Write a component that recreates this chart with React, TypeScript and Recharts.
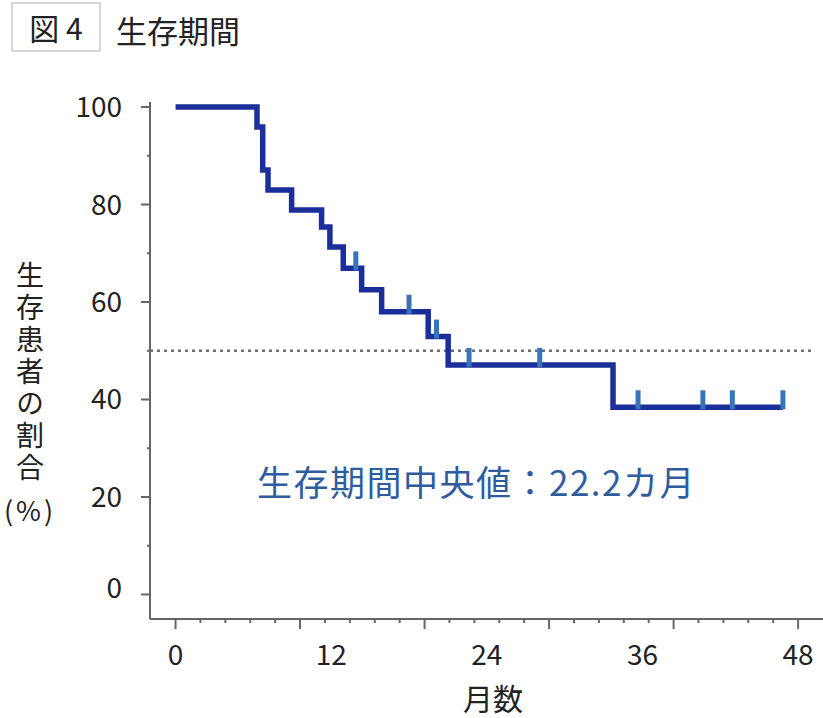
import { ComposedChart, Line, Scatter, XAxis, YAxis, ReferenceLine } from 'recharts';

// Kaplan-Meier curve (months, % surviving)
const months = [0, 6.28, 6.72, 7.13, 8.95, 11.26, 11.9, 12.93, 14.35, 15.89, 19.48, 21.02, 33.73, 46.83];
const survival = [100, 95.9, 87.1, 83.0, 78.9, 75.4, 71.3, 66.9, 62.5, 58.0, 52.9, 47.1, 38.4, 38.4];

// censored patients
const censorMonths = [13.9, 18.0, 20.12, 22.63, 28.08, 35.66, 40.66, 42.93, 46.83];
const censorSurvival = [66.9, 58.0, 52.9, 47.1, 47.1, 38.4, 38.4, 38.4, 38.4];

const xLabelTicks = [0, 12, 24, 36, 48];
const xMarkTicks = [
  0, 1.92, 3.84, 5.76, 7.68, 9.6, 11.52, 13.44, 15.36, 17.28, 19.2, 21.12, 23.04,
  24.96, 26.88, 28.8, 30.72, 32.64, 34.56, 36.48, 38.4, 40.32, 42.24, 44.16, 46.08, 48,
];
const xMajorMarks = [0, 9.6, 19.2, 28.8, 38.4, 48];
const yLabelTicks = [0, 20, 40, 60, 80, 100];
const yMarkTicks = [0, 10, 20, 30, 40, 50, 60, 70, 80, 90, 100];
const medianLevel = 50;

const curveData = months.map((t, i) => ({ t, s: survival[i] }));
const censorData = censorMonths.map((t, i) => ({ t, s: censorSurvival[i] }));
const xTicks = Array.from(new Set([...xMarkTicks, ...xLabelTicks])).sort((a, b) => a - b);

const FONT = '"Noto Sans CJK JP", "Noto Sans", sans-serif';
const AXIS = '#666';

function XTick(props: any) {
  const { x, y, payload } = props;
  const v = payload.value;
  const mark = xMarkTicks.includes(v);
  const major = xMajorMarks.includes(v);
  const label = xLabelTicks.includes(v);
  return (
    <g>
      {mark && <line x1={x} x2={x} y1={y} y2={y + (major ? 10 : 4)} stroke={AXIS} strokeWidth={2} />}
      {label && (
        <text x={x} y={y + 46} textAnchor="middle" fontSize={28} fill="#222" fontFamily={FONT}>
          {v}
        </text>
      )}
    </g>
  );
}

function YTick(props: any) {
  const { x, y, payload } = props;
  const v = payload.value;
  const major = yLabelTicks.includes(v);
  return (
    <g>
      <line x1={x - (major ? 9 : 3)} x2={x} y1={y} y2={y} stroke={AXIS} strokeWidth={2} />
      {major && (
        <text x={x - 28} y={y + (v === 0 ? 4 : 10)} textAnchor="end" fontSize={28} fill="#222" fontFamily={FONT}>
          {v}
        </text>
      )}
    </g>
  );
}

const CensorMark = (props: any) => {
  const { cx, cy } = props;
  return <rect x={cx - 2.5} y={cy - 17} width={5} height={19} fill="#3a74b8" />;
};

export default function App() {
  return (
    <div
      style={{
        position: 'absolute',
        left: 0,
        top: 0,
        width: 823,
        height: 718,
        background: '#fff',
        fontFamily: FONT,
        color: '#222',
      }}
    >
      <div
        style={{
          position: 'absolute',
          left: 11,
          top: 2,
          width: 86,
          height: 46,
          border: '2px solid #d6d6d6',
          fontSize: 30,
          lineHeight: '46px',
          textAlign: 'center',
        }}
      >
        図 4
      </div>
      <div style={{ position: 'absolute', left: 116, top: 12, fontSize: 31, lineHeight: '36px' }}>生存期間</div>

      <ComposedChart width={823} height={718} margin={{ top: 102, right: 0, bottom: 0, left: 0 }}>
        <XAxis
          dataKey="t"
          type="number"
          domain={[-1.97, 49.92]}
          allowDataOverflow
          ticks={xTicks}
          interval={0}
          height={99}
          tickSize={0}
          tickMargin={0}
          tickLine={false}
          axisLine={{ stroke: AXIS, strokeWidth: 2 }}
          tick={<XTick />}
        />
        <YAxis
          dataKey="s"
          type="number"
          domain={[-5.03, 101.03]}
          allowDataOverflow
          ticks={yMarkTicks}
          interval={0}
          width={150}
          tickSize={0}
          tickMargin={0}
          tickLine={false}
          axisLine={{ stroke: AXIS, strokeWidth: 2 }}
          tick={<YTick />}
        />
        <ReferenceLine
          segment={[
            { x: -1.97, y: medianLevel },
            { x: 49.1, y: medianLevel },
          ]}
          stroke="#6e6e6e"
          strokeWidth={2.5}
          strokeDasharray="3 4"
        />
        <Line
          data={curveData}
          dataKey="s"
          type="stepAfter"
          stroke="#1b2f9b"
          strokeWidth={5.5}
          dot={false}
          isAnimationActive={false}
        />
        <Scatter data={censorData} dataKey="s" shape={<CensorMark />} isAnimationActive={false} />
      </ComposedChart>

      <div
        style={{
          position: 'absolute',
          left: 15,
          top: 261,
          width: 30,
          height: 226,
          writingMode: 'vertical-rl',
          fontSize: 28,
          lineHeight: '30px',
          letterSpacing: 4,
        }}
      >
        生存患者の割合
      </div>
      <div
        style={{
          position: 'absolute',
          left: 0,
          top: 493,
          width: 60,
          textAlign: 'center',
          fontSize: 27,
          lineHeight: '34px',
          letterSpacing: 3,
        }}
      >
        (%)
      </div>

      <div
        style={{
          position: 'absolute',
          left: 393,
          width: 200,
          top: 681,
          textAlign: 'center',
          fontSize: 30,
          lineHeight: '32px',
        }}
      >
        月数
      </div>

      <div
        style={{
          position: 'absolute',
          left: 257,
          top: 462,
          fontSize: 35,
          lineHeight: '38px',
          letterSpacing: 1.5,
          color: '#2f5c9e',
          whiteSpace: 'nowrap',
        }}
      >
        生存期間中央値：22.2カ月
      </div>
    </div>
  );
}
